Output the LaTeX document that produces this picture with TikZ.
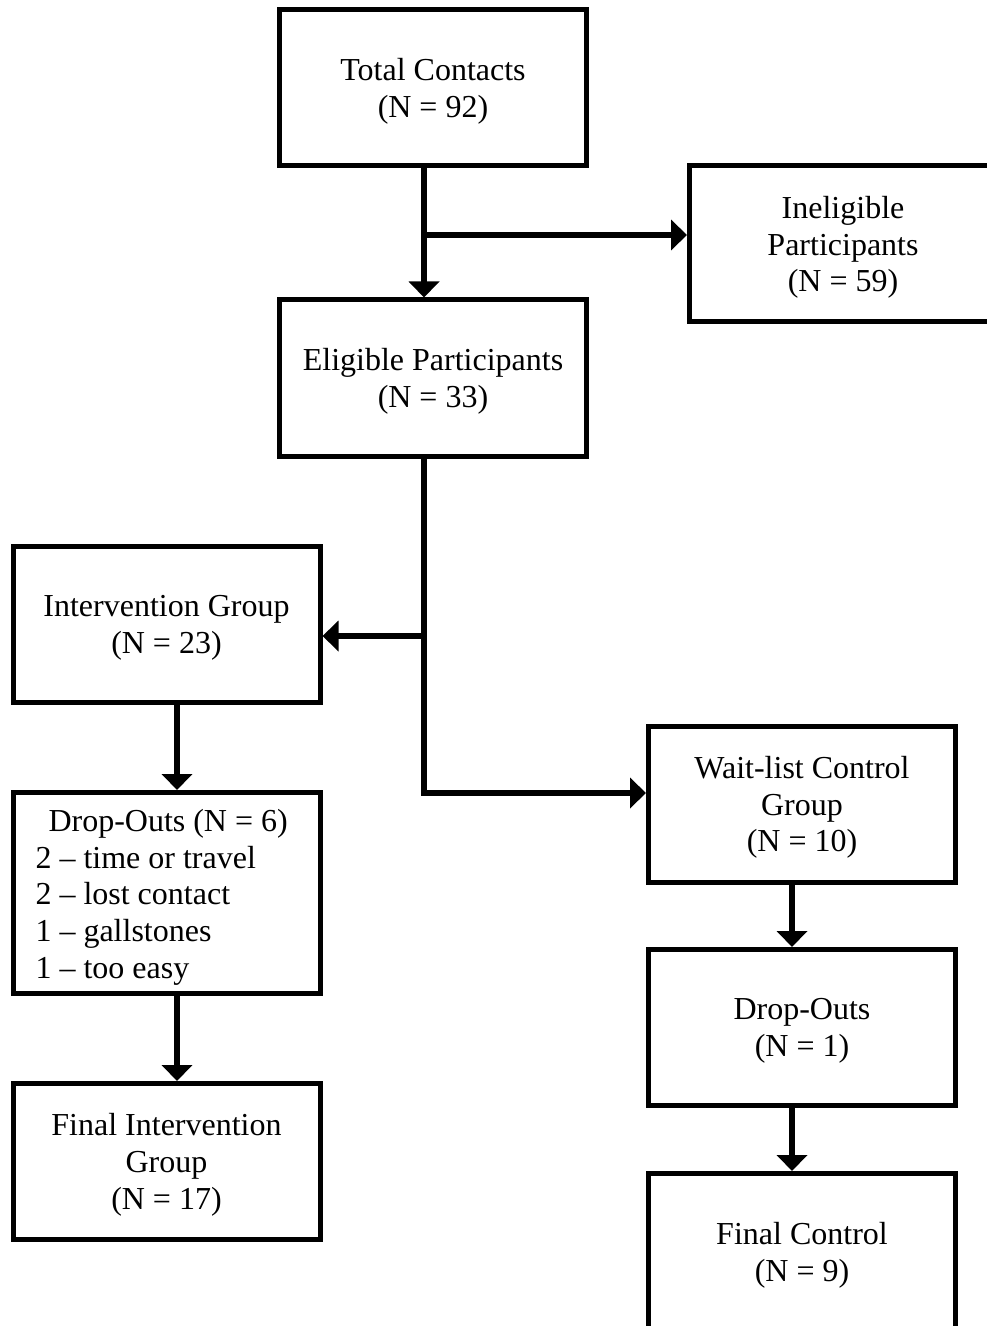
\documentclass[tikz,border=0pt]{standalone}
\usepackage{fontspec}
\setmainfont{Liberation Serif}
\usetikzlibrary{arrows.meta,calc}

\begin{document}
\begin{tikzpicture}[x=0.75pt,y=-0.75pt,
  box/.style={draw,line width=3.75pt,fill=white,minimum width=230.25pt,minimum height=117pt,
    align=center,inner sep=6pt,text depth=0pt,font=\fontsize{24}{27.6}\selectfont},
  flow/.style={line width=4.5pt,-{Triangle[width=22.5pt,length=12pt]}}]
\useasboundingbox (0,0) rectangle (986,1326);

% Boxes
\node[box] (total) at (433,88) {Total Contacts\\(N = 92)};
\node[box] (inel) at (843,244) {Ineligible\\Participants\\(N = 59)};
\node[box] (elig) at (433,378) {Eligible Participants\\(N = 33)};
\node[box] (intv) at (166.5,624.5) {Intervention Group\\(N = 23)};
\node[box] (wait) at (802,804) {Wait-list Control\\Group\\(N = 10)};
\node[box,text depth=,text height=23pt,minimum height=150.75pt,text width=196.5pt,align=flush left] (dropA) at (166.5,893)
  {\hspace*{9.75pt}Drop-Outs (N = 6)\\2 – time or travel\\2 – lost contact\\1 – gallstones\\1 – too easy};
\node[box] (finA) at (166.5,1161.5) {Final Intervention\\Group\\(N = 17)};
\node[box] (dropB) at (802,1027.5) {Drop-Outs\\(N = 1)};
\node[box] (finC) at (802,1251.5) {Final Control\\(N = 9)};

% Split points
\coordinate (split1) at (424,235);
\coordinate (split2) at (424,636);

% Connectors
\draw[flow] ($(total.south)+(-9,0)$) -- ($(elig.north)+(-9,0)$);
\draw[flow] (split1) -- (split1 -| inel.west);
\draw[flow] ($(elig.south)+(-9,0)$) |- ($(wait.west)+(0,-11)$);
\draw[flow] (split2) -- (split2 -| intv.east);
\draw[flow] ($(intv.south)+(10.5,0)$) -- ($(dropA.north)+(10.5,0)$);
\draw[flow] ($(dropA.south)+(10.5,0)$) -- ($(finA.north)+(10.5,0)$);
\draw[flow] ($(wait.south)+(-10,0)$) -- ($(dropB.north)+(-10,0)$);
\draw[flow] ($(dropB.south)+(-10,0)$) -- ($(finC.north)+(-10,0)$);

\end{tikzpicture}
\end{document}
